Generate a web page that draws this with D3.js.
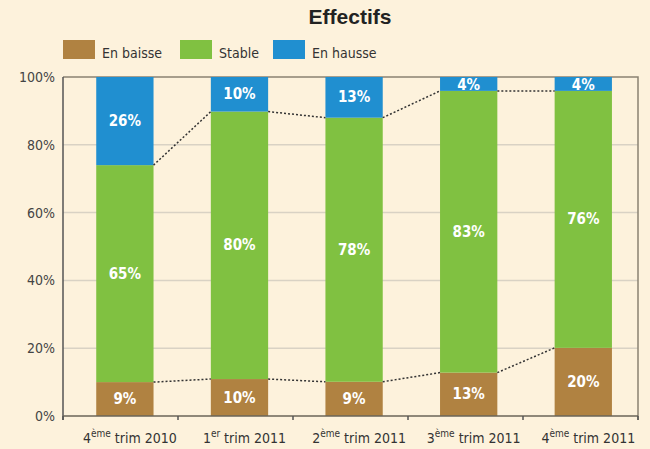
<!DOCTYPE html>
<html>
<head>
<meta charset="utf-8">
<script src="https://cdn.jsdelivr.net/npm/d3@7"></script>
<style>
  body { margin: 0; background: #fdf2dc; }
  svg { display: block; }
</style>
</head>
<body>
<div id="chart"></div>
<script>
// trimestres
const trimestres = ["4|ème|trim 2010", "1|er|trim 2011", "2|ème|trim 2011", "3|ème|trim 2011", "4|ème|trim 2011"];
const series = ["En baisse", "Stable", "En hausse"];
// parts (hauteur des barres)
const enBaisse = [10.0, 10.9, 10.1, 12.8, 20.1];
const stable = [64.0, 78.9, 77.9, 83.1, 75.8];
const enHausse = [26.0, 10.2, 12.0, 4.1, 4.1];
// libellés affichés
const lblBaisse = [9, 10, 9, 13, 20];
const lblStable = [65, 80, 78, 83, 76];
const lblHausse = [26, 10, 13, 4, 4];
const yTicks = [0, 20, 40, 60, 80, 100];

const colors = { "En baisse": "#b08241", "Stable": "#80c141", "En hausse": "#208fd0" };
const FONT = "'DejaVu Sans Condensed', 'Liberation Sans Narrow', sans-serif";

const W = 650, H = 449;
const margin = { left: 63, right: 12, top: 77, bottom: 33 };

const svg = d3.select('#chart').append('svg')
  .attr('width', W).attr('height', H)
  .style('background', '#fdf2dc');

const x = d3.scaleBand()
  .domain(d3.range(trimestres.length))
  .range([margin.left, W - margin.right - 2])
  .paddingInner(0.5).paddingOuter(0.25).align(0.58);

const y = d3.scaleLinear().domain([0, 100]).range([H - margin.bottom, margin.top]);

// grille
svg.append('g').selectAll('line')
  .data(yTicks.filter(d => d > 0 && d < 100))
  .join('line')
  .attr('x1', margin.left).attr('x2', W - margin.right)
  .attr('y1', d => y(d)).attr('y2', d => y(d))
  .attr('stroke', '#d9d2c4').attr('stroke-width', 1.5);

// cadre haut + droite
svg.append('path')
  .attr('d', `M${margin.left},${y(100)}H${W - margin.right}V${y(0) + 4}`)
  .attr('fill', 'none').attr('stroke', '#8a8272').attr('stroke-width', 1.5);

// barres empilées
const rows = trimestres.map((t, i) => ({
  i, "En baisse": enBaisse[i], "Stable": stable[i], "En hausse": enHausse[i]
}));
const stacked = d3.stack().keys(series)(rows);
const labels = { "En baisse": lblBaisse, "Stable": lblStable, "En hausse": lblHausse };

stacked.forEach(layer => {
  const g = svg.append('g');
  g.selectAll('rect').data(layer).join('rect')
    .attr('x', (d, i) => x(i))
    .attr('width', x.bandwidth())
    .attr('y', d => y(d[1]))
    .attr('height', d => y(d[0]) - y(d[1]))
    .attr('fill', colors[layer.key]);
});

// lignes pointillées entre les barres
['En baisse', 'Stable'].forEach(key => {
  const layer = stacked.find(l => l.key === key);
  for (let i = 0; i < layer.length - 1; i++) {
    svg.append('line')
      .attr('x1', x(i) + x.bandwidth()).attr('y1', y(layer[i][1]))
      .attr('x2', x(i + 1)).attr('y2', y(layer[i + 1][1]))
      .attr('stroke', '#333').attr('stroke-width', 1.5)
      .attr('stroke-dasharray', '2,2');
  }
});

// libellés des segments
stacked.forEach(layer => {
  svg.append('g').selectAll('text').data(layer).join('text')
    .attr('x', (d, i) => x(i) + x.bandwidth() / 2)
    .attr('y', d => {
      const mid = (y(d[0]) + y(d[1])) / 2;
      return Math.max(mid, y(100) + 8) + 5;
    })
    .attr('text-anchor', 'middle')
    .attr('font-family', FONT).attr('font-weight', 'bold')
    .attr('font-size', 15).attr('fill', '#fff')
    .text((d, i) => labels[layer.key][i] + '%');
});

// axe gauche
svg.append('line')
  .attr('x1', margin.left).attr('x2', margin.left)
  .attr('y1', y(100)).attr('y2', y(0) + 4)
  .attr('stroke', '#555').attr('stroke-width', 1.5);

svg.append('g').selectAll('text').data(yTicks).join('text')
  .attr('x', 55).attr('y', d => y(d) + 5)
  .attr('text-anchor', 'end')
  .attr('font-family', FONT).attr('font-size', 14).attr('fill', '#444')
  .text(d => d + '%');

// axe bas
svg.append('line')
  .attr('x1', margin.left).attr('x2', W - margin.right)
  .attr('y1', y(0)).attr('y2', y(0))
  .attr('stroke', '#6a6458').attr('stroke-width', 1.5);

svg.append('g').selectAll('line')
  .data(d3.range(trimestres.length + 1))
  .join('line')
  .attr('x1', i => margin.left + i * (W - margin.right - margin.left) / trimestres.length)
  .attr('x2', i => margin.left + i * (W - margin.right - margin.left) / trimestres.length)
  .attr('y1', y(0)).attr('y2', y(0) + 4)
  .attr('stroke', '#555').attr('stroke-width', 1.5);

const xl = svg.append('g').selectAll('text').data(trimestres).join('text')
  .attr('x', (d, i) => x(i) + x.bandwidth() / 2 + 5)
  .attr('y', 443)
  .attr('text-anchor', 'middle')
  .attr('font-family', FONT).attr('font-size', 14).attr('fill', '#333');
xl.each(function(d) {
  const [n, sup, rest] = d.split('|');
  const t = d3.select(this);
  t.append('tspan').text(n);
  t.append('tspan').attr('font-size', 10).attr('dy', -6).text(sup);
  t.append('tspan').attr('dy', 6).text('\u00a0' + rest);
});

// titre
svg.append('text')
  .attr('x', 350).attr('y', 24)
  .attr('text-anchor', 'middle')
  .attr('font-family', "'Liberation Sans', Arial, sans-serif")
  .attr('font-weight', 'bold').attr('font-size', 21).attr('fill', '#222')
  .text('Effectifs');

// légende
const legX = [63, 180, 273];
const leg = svg.append('g').selectAll('g').data(series).join('g')
  .attr('transform', (d, i) => `translate(${legX[i]},40)`);
leg.append('rect').attr('width', 32).attr('height', 19).attr('fill', d => colors[d]);
leg.append('text')
  .attr('x', 39).attr('y', 18)
  .attr('font-family', FONT).attr('font-size', 14).attr('fill', '#333')
  .text(d => d);
</script>
</body>
</html>
